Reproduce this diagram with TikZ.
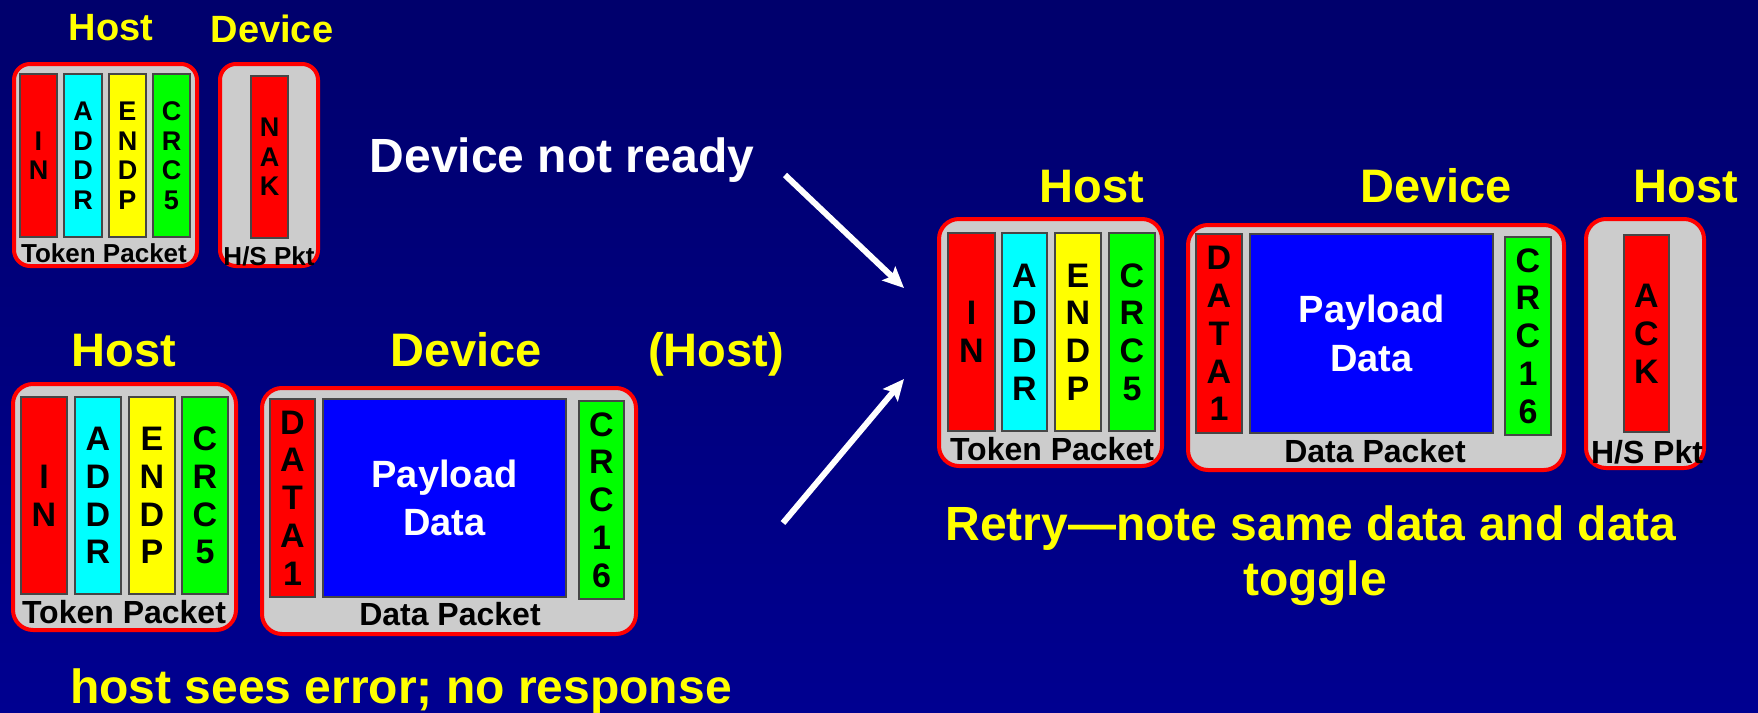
\documentclass[tikz,border=0pt]{standalone}
\usepackage{fontspec}
\setmainfont{Liberation Sans}
\usetikzlibrary{arrows.meta}
\definecolor{bgtop}{RGB}{0,0,108}
\definecolor{bgbot}{RGB}{0,0,144}
\definecolor{pktgray}{RGB}{204,204,204}
\definecolor{fldline}{RGB}{70,70,70}
\definecolor{lblyellow}{RGB}{255,255,0}
\definecolor{fldcyan}{RGB}{0,255,255}
\definecolor{fldgreen}{RGB}{0,255,0}
\definecolor{fldyellow}{RGB}{255,255,0}
\definecolor{fldblue}{RGB}{0,0,255}
\newcommand{\fsz}[2]{\fontsize{#1}{#2}\selectfont\bfseries}
\begin{document}
\begin{tikzpicture}[x=1pt,y=-1pt,
  pkt/.style={draw=red, line width=4pt, fill=pktgray, rounded corners=20pt, inner sep=0pt},
  pktsm/.style={pkt, rounded corners=16pt},
  fld/.style={draw=fldline, line width=1.2pt, inner sep=0pt, align=center, text=black},
  lblbig/.style={anchor=base, text=lblyellow, font=\fsz{47}{56}, inner sep=0pt},
  lblsm/.style={anchor=base, text=lblyellow, font=\fsz{38}{45}, inner sep=0pt},
  pcap/.style={anchor=base, text=black, font=\fsz{32}{38}, inner sep=0pt},
  pcapsm/.style={anchor=base, text=black, font=\fsz{26}{31}, inner sep=0pt},
  ltr/.style={font=\fsz{34}{37.8}},
  ltrsm/.style={font=\fsz{27}{29.5}},
  pay/.style={fld, fill=fldblue, text=white, font=\fsz{38}{48.5}},
  arr/.style={draw=white, line width=6pt, -{Stealth[length=21pt,width=19pt,inset=4pt]}}
]
\useasboundingbox (0,0) rectangle (1758,712);
\shade[top color=bgtop, bottom color=bgbot] (0,0) rectangle (1758,712);

% ---------- top-left: IN / NAK ----------
\node[lblsm] (tlHost) at (111,40) {Host};
\node[lblsm] (tlDev) at (272,42) {Device};
\node[pktsm, minimum width=183pt, minimum height=202pt] (tlTok) at (105.5,165) {};
\node[fld, ltrsm, fill=red, minimum width=37pt, minimum height=163pt] (tlIN) at (38.5,155.5) {I\\N};
\node[fld, ltrsm, fill=fldcyan, minimum width=38pt, minimum height=163pt] (tlADDR) at (83,155.5) {A\\D\\D\\R};
\node[fld, ltrsm, fill=fldyellow, minimum width=37pt, minimum height=163pt] (tlENDP) at (127.5,155.5) {E\\N\\D\\P};
\node[fld, ltrsm, fill=fldgreen, minimum width=37pt, minimum height=163pt] (tlCRC) at (171.5,155.5) {C\\R\\C\\5};
\node[pcapsm] (tlTokCap) at (104,262) {Token Packet};
\node[pktsm, minimum width=98pt, minimum height=202pt] (tlHS) at (269,165) {};
\node[fld, ltrsm, fill=red, minimum width=37pt, minimum height=162pt] (tlNAK) at (269.5,157) {N\\A\\K};
\node[pcapsm] (tlHSCap) at (269,265) {H/S Pkt};

\node[anchor=base, text=white, font=\fsz{48}{56}, inner sep=0pt] (notready) at (562,172) {Device not ready};

% ---------- bottom-left: IN / DATA1 error ----------
\node[lblbig] (blHost) at (124,366) {Host};
\node[lblbig] (blDev) at (466,366) {Device};
\node[lblbig] (blHost2) at (716,366) {(Host)};
\node[pkt, minimum width=223pt, minimum height=246pt] (blTok) at (124.5,507) {};
\node[fld, ltr, fill=red, minimum width=46pt, minimum height=197pt] (blIN) at (44,495.5) {I\\N};
\node[fld, ltr, fill=fldcyan, minimum width=46pt, minimum height=197pt] (blADDR) at (98,495.5) {A\\D\\D\\R};
\node[fld, ltr, fill=fldyellow, minimum width=46pt, minimum height=197pt] (blENDP) at (152,495.5) {E\\N\\D\\P};
\node[fld, ltr, fill=fldgreen, minimum width=46pt, minimum height=197pt] (blCRC) at (205,495.5) {C\\R\\C\\5};
\node[pcap] (blTokCap) at (124,623) {Token Packet};
\node[pkt, minimum width=374pt, minimum height=246pt] (blData) at (449,511) {};
\node[fld, ltr, fill=red, minimum width=45pt, minimum height=198pt] (blDATA1) at (292.5,498) {D\\A\\T\\A\\1};
\node[pay, minimum width=243pt, minimum height=198pt] (blPay) at (444.5,498) {Payload\\Data};
\node[fld, ltr, fill=fldgreen, minimum width=45pt, minimum height=198pt] (blCRC16) at (601.5,500) {C\\R\\C\\1\\6};
\node[pcap] (blDataCap) at (450,625) {Data Packet};
\node[anchor=base west, text=lblyellow, font=\fsz{48}{56}, inner sep=0pt] (noresp) at (70,703) {host sees error; no response};

% ---------- right: retry ----------
\node[lblbig] (rHost) at (1092,202) {Host};
\node[lblbig] (rDev) at (1436,202) {Device};
\node[lblbig] (rHost2) at (1686,202) {Host};
\node[pkt, minimum width=223pt, minimum height=247pt] (rTok) at (1050.5,342.5) {};
\node[fld, ltr, fill=red, minimum width=47pt, minimum height=198pt] (rIN) at (971.5,332) {I\\N};
\node[fld, ltr, fill=fldcyan, minimum width=45pt, minimum height=198pt] (rADDR) at (1024.5,332) {A\\D\\D\\R};
\node[fld, ltr, fill=fldyellow, minimum width=46pt, minimum height=198pt] (rENDP) at (1078,332) {E\\N\\D\\P};
\node[fld, ltr, fill=fldgreen, minimum width=46pt, minimum height=198pt] (rCRC) at (1132,332) {C\\R\\C\\5};
\node[pcap] (rTokCap) at (1052,460) {Token Packet};
\node[pkt, minimum width=376pt, minimum height=245pt] (rData) at (1376,347.5) {};
\node[fld, ltr, fill=red, minimum width=46pt, minimum height=199pt] (rDATA1) at (1219,333.5) {D\\A\\T\\A\\1};
\node[pay, minimum width=243pt, minimum height=199pt] (rPay) at (1371.5,333.5) {Payload\\Data};
\node[fld, ltr, fill=fldgreen, minimum width=46pt, minimum height=198pt] (rCRC16) at (1528,336) {C\\R\\C\\1\\6};
\node[pcap] (rDataCap) at (1375,462) {Data Packet};
\node[pkt, minimum width=118pt, minimum height=249pt] (rHS) at (1645,343.5) {};
\node[fld, ltr, fill=red, minimum width=45pt, minimum height=197pt] (rACK) at (1646.5,333.5) {A\\C\\K};
\node[pcap] (rHSCap) at (1647,463) {H/S Pkt};
\node[anchor=base, text=lblyellow, font=\fsz{48}{55}, inner sep=0pt] (retry1) at (1311,540) {Retry---note same data and data};
\node[anchor=base, text=lblyellow, font=\fsz{48}{55}, inner sep=0pt] (retry2) at (1315,595) {toggle};

% ---------- arrows ----------
\coordinate (a1s) at (785,175);
\coordinate (a1e) at (904,288);
\coordinate (a2s) at (783,523);
\coordinate (a2e) at (904,379);
\draw[arr] (a1s) -- (a1e);
\draw[arr] (a2s) -- (a2e);
\end{tikzpicture}
\end{document}
